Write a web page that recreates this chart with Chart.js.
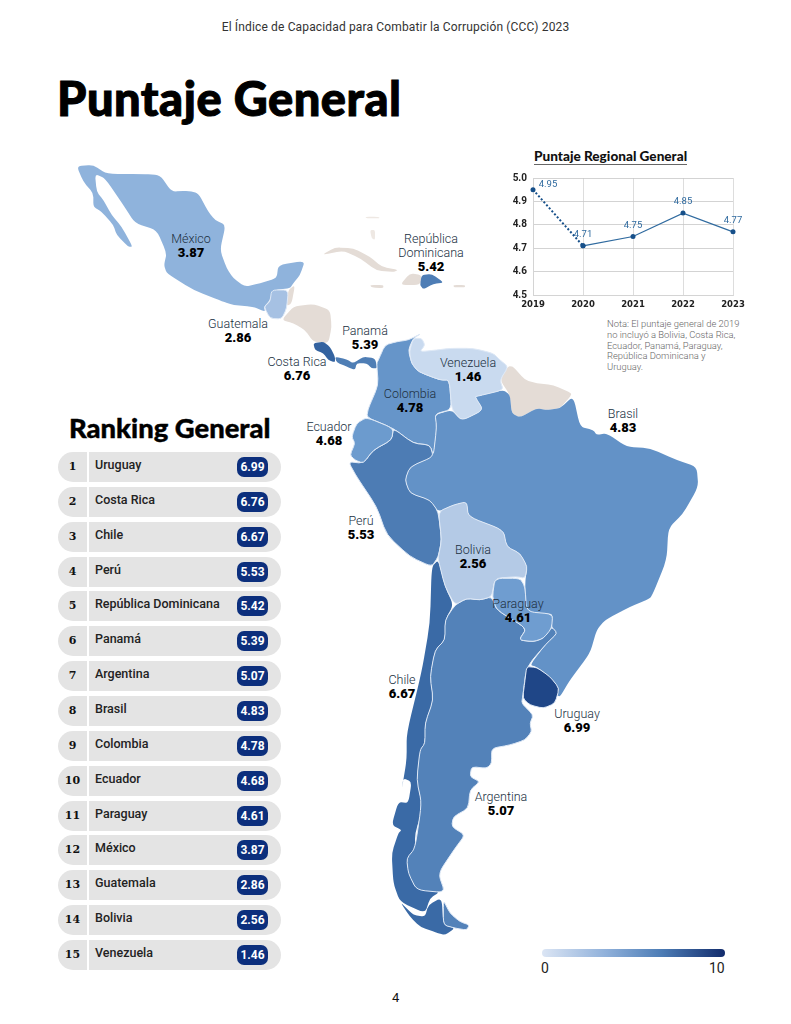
<!DOCTYPE html>
<html lang="es"><head><meta charset="utf-8">
<script src="https://cdn.jsdelivr.net/npm/chart.js@4"></script>
<style>
html,body{margin:0;padding:0;background:#fff}
#page{position:relative;width:791px;height:1024px;overflow:hidden;font-family:Roboto,"Open Sans",sans-serif;color:#1a1a1a}
.t{position:absolute;white-space:nowrap}
#map{position:absolute;left:0;top:0}
#lineWrap{position:absolute;left:500px;top:166px;width:270px;height:151px}
.lab{position:absolute;transform:translateX(-50%);text-align:center;line-height:14px;font-size:12.5px;font-weight:300;color:#20303f;white-space:nowrap}
.lab b{display:block;font-size:13px;font-weight:900;color:#000}
.row{position:absolute;left:58px;width:223px;height:30px;background:#e4e4e4;border-radius:15px;font-size:12.5px;font-weight:500;line-height:30px}
.row .n{position:absolute;left:0;width:29px;text-align:center;font-weight:900;border-right:2px solid #fff;height:30px;font-family:"DejaVu Serif",serif;font-size:11px;color:#111}
.row .c{position:absolute;left:37px;top:-2px;color:#222}
.row .v{position:absolute;left:179px;top:5px;width:31px;height:20px;line-height:20px;border-radius:7px;background:#0c2f7d;color:#fff;text-align:center;font-weight:700;font-size:12px}
</style></head><body>
<div id="page">
<svg id="map" width="791" height="1024" viewBox="0 0 791 1024"></svg>
<div class="t" style="left:0;width:791px;text-align:center;top:20px;font-size:12px;letter-spacing:.15px;color:#333">El Índice de Capacidad para Combatir la Corrupción (CCC) 2023</div>
<div class="t" style="left:57px;top:68px;font-family:Lato,Roboto,sans-serif;font-weight:900;font-size:47px;line-height:60px;letter-spacing:.5px;color:#000;-webkit-text-stroke:1px #000">Puntaje General</div>
<div class="t" style="left:69px;top:411px;font-family:Lato,Roboto,sans-serif;font-weight:900;font-size:27.4px;line-height:34px;color:#000;-webkit-text-stroke:.4px #000">Ranking General</div>
<div class="t" style="left:534px;top:149px;font-family:Lato,Roboto,sans-serif;font-weight:900;font-size:13.6px;line-height:15px;color:#111;border-bottom:1px solid #666">Puntaje Regional General</div>
<div id="lineWrap"><canvas id="line"></canvas></div>
<div class="t" style="left:607px;top:319px;font-size:9.4px;line-height:10.8px;font-weight:300;color:#666">Nota: El puntaje general de 2019<br>no incluyó a Bolivia, Costa Rica,<br>Ecuador, Panamá, Paraguay,<br>República Dominicana y<br>Uruguay.</div>
<div id="ranking"></div><div id="labels"></div>
<div class="t" style="left:542px;top:949px;width:183px;height:8px;border-radius:4px;background:linear-gradient(90deg,#dbe5f4,#8fb0da 35%,#4d7db6 65%,#122c6c)"></div>
<div class="t" style="left:541px;top:960px;font-size:14px;line-height:16px;color:#222">0</div>
<div class="t" style="left:709px;top:960px;font-size:14px;line-height:16px;color:#222">10</div>
<div class="t" style="left:392px;top:990px;font-size:13px;line-height:16px;color:#111">4</div>
</div>
<script>
const years=["2019","2020","2021","2022","2023"];
const regionalEstimated=[4.95,4.71,null,null,null];
const regionalScore=[null,4.71,4.75,4.85,4.77];
const regionalLabels=["4.95","4.71","4.75","4.85","4.77"];
const yTicks=[4.5,4.6,4.7,4.8,4.9,5.0];
const rankCountries=["Uruguay","Costa Rica","Chile","Perú","República Dominicana","Panamá","Argentina","Brasil","Colombia","Ecuador","Paraguay","México","Guatemala","Bolivia","Venezuela"];
const rankScores=[6.99,6.76,6.67,5.53,5.42,5.39,5.07,4.83,4.78,4.68,4.61,3.87,2.86,2.56,1.46];

const score=Object.fromEntries(rankCountries.map((c,i)=>[c,rankScores[i]]));
const stops=[[1.46,[201,218,239]],[2.56,[180,202,230]],[2.86,[166,193,227]],[3.87,[143,179,220]],[4.7,[107,154,206]],[5.07,[83,130,185]],[5.5,[77,124,180]],[6.7,[58,106,166]],[6.99,[31,70,135]]];
function col(v){for(let i=1;i<stops.length;i++){if(v<=stops[i][0]){const[a,c]=stops[i-1],[b,d]=stops[i],t=(v-a)/(b-a);return`rgb(${c.map((x,j)=>Math.round(x+(d[j]-x)*t)).join(",")})`}}return"rgb(31,70,135)"}
const GRAY="#e4dcd6";
const svg=document.getElementById("map");
function rounded(pts){const p=pts.trim().split(/\s+/).map(s=>s.split(",").map(Number)),n=p.length;let d="";
 for(let i=0;i<n;i++){const a=p[(i+n-1)%n],b=p[i],c=p[(i+1)%n],k=.3;
  const s=[b[0]+(a[0]-b[0])*k,b[1]+(a[1]-b[1])*k],e=[b[0]+(c[0]-b[0])*k,b[1]+(c[1]-b[1])*k];
  d+=(i?"L":"M")+s[0].toFixed(1)+" "+s[1].toFixed(1)+"Q"+b[0]+" "+b[1]+" "+e[0].toFixed(1)+" "+e[1].toFixed(1)}
 return d+"Z"}
function poly(frame,fill,pts,stroke){const f=frame==="N"?[60,150]:[330,330];
 svg.insertAdjacentHTML("beforeend",`<path transform="translate(${f[0]},${f[1]}) scale(.33333)" fill="${fill}" d="${rounded(pts)}" stroke="${stroke||'none'}" stroke-width="${stroke?3:0}" stroke-linejoin="round"/>`)}
const EDGE="#dfe9f6";
// North: Caribbean & Central America
poly("N",GRAY,"785,315 825,292 880,295 930,320 965,350 1015,360 1000,366 950,362 900,325 850,302");
poly("N",GRAY,"930,405 970,405 970,415 935,412");
poly("N",GRAY,"1020,405 1050,370 1085,375 1080,405");
poly("N",GRAY,"1180,405 1215,405 1215,412 1182,412");
poly("N","#eee8e3","915,200 955,200 960,205 920,205");
poly("N","#eee8e3","930,240 945,240 945,270 935,265");
poly("N",col(score["México"]),"50,48 100,45 140,72 250,72 300,75 335,125 385,122 415,130 445,185 465,210 497,225 480,300 500,355 520,385 555,410 600,400 650,385 655,345 735,332 720,375 700,400 690,415 640,420 630,450 612,470 615,485 580,470 520,465 490,455 400,420 320,370 312,345 320,310 290,240 225,220 190,165 135,85 105,72 110,125 130,150 155,195 185,230 218,290 205,290 170,255 160,225 125,185 100,170 100,130 70,95");
poly("N",GRAY,"685,420 705,405 695,460 680,468");
poly("N",GRAY,"665,510 700,470 760,462 810,480 815,530 805,580 760,575 735,540 700,520");
poly("N",col(score["Guatemala"]),"612,470 630,455 635,420 685,420 680,475 665,507 630,505",EDGE);
poly("N",col(score["Panamá"]),"825,620 860,628 880,640 910,620 945,625 952,655 935,655 920,640 890,640 885,660 860,650 830,637");
poly("N",col(score["Costa Rica"]),"760,580 790,575 810,590 825,620 825,637 805,630 790,610 765,600");
poly("N",col(score["República Dominicana"]),"1085,375 1115,372 1152,398 1120,402 1090,418 1080,405");
// South America
poly("S",GRAY,"535,108 510,150 540,195 545,250 570,262 620,235 650,240 690,235 720,200 725,190 670,165 620,160 585,150 550,110");
poly("S",col(score["Brasil"]),"445,198 520,180 540,195 545,250 570,262 620,235 650,240 690,235 730,198 750,290 790,300 800,315 830,310 890,350 960,355 1040,390 1100,410 1105,470 1060,550 1015,595 1010,690 965,800 950,810 900,830 825,870 800,900 780,970 720,1050 690,1100 680,1095 688,1075 660,1040 620,1010 600,1005 650,940 682,910 665,890 668,852 640,850 590,845 585,760 592,710 570,670 530,650 520,600 415,560 410,515 370,525 325,545 300,510 240,490 225,450 240,410 310,380 320,290 315,255 365,240 395,272 460,240 435,200");
poly("S",col(score["Colombia"]),"275,10 250,25 235,60 245,100 265,125 330,150 358,150 365,238 315,252 320,290 310,378 300,345 250,340 190,295 110,262 115,235 145,165 140,100 145,90 165,45 200,35 235,30",EDGE);
poly("S",col(score["Venezuela"]),"250,25 238,65 245,100 265,125 330,150 358,150 365,238 395,272 460,240 435,200 445,198 520,180 510,150 535,110 510,90 490,70 430,55 360,55 320,60 270,65 285,45 275,25",EDGE);
poly("S",col(score["Perú"]),"55,395 100,400 130,360 185,330 190,295 250,340 300,345 310,380 240,410 225,450 240,490 300,510 325,545 335,630 325,680 305,710 240,680 170,615 140,530 80,440",EDGE);
poly("S",col(score["Ecuador"]),"110,262 190,295 185,330 130,360 100,400 75,390 60,375 75,340 65,320 80,280",EDGE);
poly("S",col(score["Chile"]),"305,710 325,690 345,770 370,825 345,870 345,930 315,960 300,1040 310,1110 285,1180 285,1240 265,1290 265,1380 280,1430 255,1510 255,1570 230,1600 240,1630 255,1675 330,1685 300,1705 285,1750 210,1715 190,1660 185,1570 205,1510 215,1500 185,1485 205,1415 235,1420 245,1355 220,1345 215,1380 230,1290 230,1210 275,1025 300,880");
poly("S",col(score["Chile"]),"210,1715 250,1755 285,1760 295,1725 335,1703 340,1785 375,1795 345,1815 325,1810 270,1790 240,1760");
poly("S",col(score["Argentina"]),"340,1710 360,1750 390,1775 418,1785 410,1800 378,1795 340,1785",EDGE);
poly("S",col(score["Argentina"]),"345,870 375,825 410,805 450,810 485,800 500,840 590,895 567,930 610,935 640,925 665,890 682,910 650,940 590,1010 578,1100 575,1120 610,1155 600,1180 605,1205 585,1230 540,1245 485,1255 485,1300 470,1315 425,1310 420,1340 450,1355 420,1380 415,1435 370,1460 365,1490 405,1515 375,1555 325,1630 345,1688 260,1680 235,1630 230,1585 255,1555 275,1420 260,1350 270,1260 285,1240 285,1180 310,1110 300,1040 315,960 345,930",EDGE);
poly("S",col(score["Bolivia"]),"410,515 415,560 520,600 530,650 570,670 592,710 585,745 560,740 495,745 485,800 450,810 410,805 375,825 345,770 325,690 325,680 335,630 325,545 370,525",EDGE);
poly("S",col(score["Paraguay"]),"487,800 495,745 570,745 585,770 590,845 668,852 665,895 640,925 610,935 567,930 590,895 500,840",EDGE);
poly("S",col(score["Uruguay"]),"590,1010 620,1012 660,1040 688,1075 675,1120 640,1135 600,1125 578,1105 585,1050",EDGE);

const mapLabels=[["México",[191,232]],["República Dominicana",[431,232],"República<br>Dominicana"],["Guatemala",[238,317]],["Panamá",[365,324]],["Costa Rica",[297,355]],["Venezuela",[468,356]],["Colombia",[410,387]],["Ecuador",[329,420]],["Brasil",[623,407]],["Perú",[361,514]],["Bolivia",[473,543]],["Paraguay",[518,597]],["Chile",[402,673]],["Uruguay",[577,707]],["Argentina",[501,790]]];
document.getElementById("labels").innerHTML=mapLabels.map(([n,p,h])=>`<div class="lab" style="left:${p[0]}px;top:${p[1]}px">${h||n}<b>${score[n].toFixed(2)}</b></div>`).join("");
document.getElementById("ranking").innerHTML=rankCountries.map((c,i)=>`<div class="row" style="top:${452+i*34.85}px"><span class="n">${i+1}</span><span class="c">${c}</span><span class="v">${rankScores[i].toFixed(2)}</span></div>`).join("");

const valueLabels={id:"valueLabels",afterDatasetsDraw(ch){const x=ch.scales.x,y=ch.scales.y,g=ch.ctx;g.save();g.font="400 9.5px Roboto";g.fillStyle="#2f6a9f";g.textAlign="center";g.textBaseline="middle";
 regionalLabels.forEach((l,i)=>{g.fillText(l,x.getPixelForValue(i)+(i===0?15:0),y.getPixelForValue(parseFloat(l))-(i===0?5:11))});g.restore()}};
new Chart(document.getElementById("line"),{type:"line",plugins:[valueLabels],
 data:{labels:years,datasets:[
  {data:regionalEstimated,borderColor:"#17508a",borderWidth:2,borderDash:[2,2],pointRadius:2.5,pointBackgroundColor:"#17508a",pointBorderWidth:0,clip:false,tension:0},
  {data:regionalScore,borderColor:"#2f6a9f",borderWidth:1.2,pointRadius:2.5,pointBackgroundColor:"#17508a",pointBorderWidth:0,clip:false,tension:0}]},
 options:{responsive:true,maintainAspectRatio:false,animation:false,layout:{padding:{top:7,right:37,left:0,bottom:0}},
  plugins:{legend:{display:false},tooltip:{enabled:false}},
  scales:{
   x:{grid:{color:"#d4d4d4",lineWidth:.8,drawTicks:false},border:{color:"#d4d4d4"},afterFit(s){s.height=22},ticks:{padding:5,maxRotation:0,color:"#222",font:{family:"DejaVu Sans",size:8.5,weight:"bold"}}},
   y:{min:4.5,max:5,grid:{color:"#c8c8c8",lineWidth:.8,drawTicks:false},border:{color:"#d4d4d4"},afterFit(s){s.width=33},afterBuildTicks(s){s.ticks=yTicks.map(v=>({value:v}))},ticks:{padding:6,color:"#222",font:{family:"Roboto",size:10,weight:"bold"},callback:v=>v.toFixed(1)}}
  }}});
</script></body></html>
